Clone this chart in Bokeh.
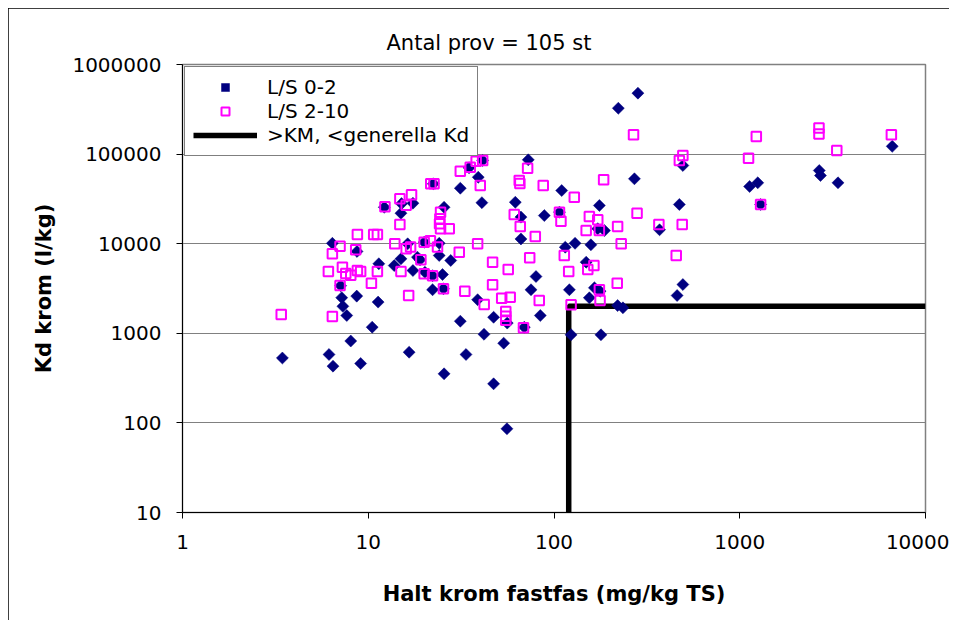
import numpy as np
from bokeh.plotting import figure
from bokeh.models import Range1d, FixedTicker, PrintfTickFormatter, Legend, LegendItem
from bokeh.embed import file_html
from bokeh.resources import INLINE

# L/S 0-2 (navy diamonds): solid-phase Cr (mg/kg TS), Kd (l/kg)
ls02_x = [3.45, 6.15, 6.46, 6.41, 7.1, 7.2, 7.3, 7.66, 8.05, 8.7, 8.67, 9.1, 10.5, 11.3, 11.4,
          12.2, 13.8, 15.0, 15.0, 15.1, 16.3, 16.6, 17.4, 17.4, 18.4, 19.0, 20.0, 20.2, 22.2,
          22.2, 22.4, 24.1, 24.1, 25.1, 25.4, 25.6, 25.6, 27.8, 31.3, 31.3, 33.6, 34.9, 38.8,
          39.1, 42.0, 40.9, 41.3, 47.3, 47.3, 53.6, 56.0, 55.8, 61.9, 66.4, 66.4, 69.2, 72.7,
          75.2, 80.0, 84.4, 88.7, 107, 110, 115, 121, 123.6, 129.8, 149, 155, 158, 165, 177,
          172, 175.5, 179, 187, 220, 222, 235, 271, 283, 370, 460, 473, 494, 494, 1130, 1250,
          1295, 2680, 2720, 3380, 6620]
ls02_y = [530, 580, 430, 10100, 3400, 2500, 2000, 1580, 820, 8200, 2600, 460, 1170, 2230, 5970,
          25500, 5700, 6780, 21900, 28000, 9970, 615, 5020, 28300, 7070, 6610, 10400, 4800, 3060,
          4400, 46600, 7390, 10100, 4530, 3140, 25500, 353, 6500, 1365, 41600, 580, 70300, 2370,
          55200, 975, 28700, 84900, 1510, 273, 776, 1300, 86, 29000, 19800, 11300, 1170, 86300,
          3060, 4300, 1580, 20600, 22500, 39200, 9140, 3060, 962, 10100, 6220, 2490, 9720, 3220, 2950,
          14700, 26700, 962, 14000, 2040, 325000, 1925, 53000, 479000, 14300, 2640, 27400, 3500, 74600,
          43500, 47800, 27400, 65600, 57700, 47800, 122000]

# L/S 2-10 (magenta open squares)
ls210_x = [3.4, 6.41, 6.41, 6.1, 7.05, 7.26, 7.05, 7.57, 8.05, 8.56, 8.74, 8.74, 9.1, 10.4, 10.7,
           11.2, 11.2, 12.3, 13.9, 14.8, 14.8, 15.0, 16.0, 16.0, 16.5, 16.9, 17.1, 19.2, 20.0,
           20.0, 22.2, 21.6, 21.7, 22.6, 23.6, 24.5, 24.3, 24.2, 24.5, 25.4, 27.3, 30.9, 31.3,
           33.1, 35.4, 38.1, 41.3, 38.8, 40.1, 42.1, 46.7, 46.7, 52.3, 55.0, 55.0, 55.0, 56.7,
           58.1, 61.1, 65.0, 65.5, 65.8, 68.5, 72.1, 74.0, 79.3, 83.3, 87.5, 107, 109, 113.6, 120,
           123.6, 128.6, 149, 152, 155, 164, 172, 175.5, 175.5, 177, 185, 219, 220, 230, 268, 280,
           367, 455, 473, 490, 494, 1115, 1228, 1295, 2670, 2670, 3330, 6550]
ls210_y = [1620, 1540, 7710, 4900, 9380, 5470, 3415, 4650, 4440, 8550, 12700, 5020, 4900, 3620, 12700,
           12700, 4900, 25800, 9970, 16400, 31700, 4900, 8770, 26900, 2640, 9170, 35100, 6610, 10400,
           4610, 4400, 10800, 46600, 46600, 9170, 22500, 19000, 16700, 14700, 3140, 14700, 8040, 64400,
           2950, 71400, 83300, 84900, 9970, 44600, 2095, 6220, 3480, 2465, 1750, 1550, 1400, 5150,
           2520, 21200, 50700, 47000, 15600, 1150, 69600, 6960, 12000, 2323, 44600, 22500, 17800, 7390, 4900,
           2080, 33000, 14000, 5150, 20100, 5710, 18500, 14000, 3060, 2320, 51700, 3620, 15600, 9970, 164000, 21900,
           16400, 7390, 84900, 16400, 96400, 90000, 157000, 27400, 195000, 168000, 110000, 164000]

# >KM, <generella Kd boundary
lim_x = [120, 120, 10000]
lim_y = [10, 2000, 2000]

x_ticks = [1, 10, 100, 1000, 10000]
y_ticks = [10, 100, 1000, 10000, 100000, 1000000]

FONT = "DejaVu Sans"

p = figure(width=941, height=612, x_axis_type="log", y_axis_type="log",
           x_range=Range1d(1, 10000), y_range=Range1d(10, 1000000),
           output_backend="svg", toolbar_location=None,
           min_border_left=174, min_border_right=24, min_border_top=56, min_border_bottom=108,
           title="Antal prov = 105 st", margin=(8, 0, 0, 8))
p.styles = {"outline": "1px solid black", "outline-offset": "-1px"}

p.title.text_font = FONT
p.title.text_font_size = "21px"
p.title.text_font_style = "normal"
p.title.text_color = "black"
p.title.align = "left"
p.title.offset = 204
p.title.standoff = 20

p.outline_line_color = "#808080"
p.outline_line_width = 1.5
p.background_fill_color = "white"
p.border_fill_color = "white"

p.xgrid.grid_line_color = None
p.ygrid.grid_line_color = "#808080"
p.ygrid.grid_line_width = 1
p.ygrid.ticker = FixedTicker(ticks=y_ticks)

for ax, ticks in ((p.xaxis[0], x_ticks), (p.yaxis[0], y_ticks)):
    ax.ticker = FixedTicker(ticks=ticks)
    ax.formatter = PrintfTickFormatter(format="%d")
    ax.major_tick_out = 6
    ax.major_tick_in = 0
    ax.minor_tick_out = 0
    ax.minor_tick_in = 0
    ax.axis_line_color = "black"
    ax.major_tick_line_color = "black"
    ax.major_label_text_font = FONT
    ax.major_label_text_font_size = "20px"
    ax.major_label_text_color = "black"
    ax.axis_label_text_font = FONT
    ax.axis_label_text_font_size = "21px"
    ax.axis_label_text_font_style = "bold"
    ax.axis_label_text_color = "black"

p.xaxis.axis_label = "Halt krom fastfas (mg/kg TS)"
p.yaxis.axis_label = "Kd krom (l/kg)"
p.xaxis.major_label_standoff = 16
p.yaxis.major_label_standoff = 15
p.xaxis.axis_label_standoff = 30
p.yaxis.axis_label_standoff = 13

r_line = p.line(lim_x, lim_y, line_color="black", line_width=5.5)
r_d = p.scatter(ls02_x, ls02_y, marker="square", angle=np.pi / 4, size=8.5,
                fill_color="#000080", line_color="#000080", line_width=0.5)
r_s = p.scatter(ls210_x, ls210_y, marker="square", size=9.5,
                fill_color=None, line_color="#FF00FF", line_width=2)

legend = Legend(items=[LegendItem(label="L/S 0-2", renderers=[r_d]),
                       LegendItem(label="L/S 2-10", renderers=[r_s]),
                       LegendItem(label=">KM, <generella Kd", renderers=[r_line])],
                location="top_left")
legend.margin = 2
legend.padding = 8
legend.spacing = 0
legend.label_height = 20
legend.glyph_height = 20
legend.glyph_width = 64
legend.label_standoff = 10
legend.label_text_font = FONT
legend.label_text_font_size = "20px"
legend.label_text_color = "black"
legend.border_line_color = "black"
legend.border_line_width = 1
legend.background_fill_alpha = 1
p.add_layout(legend)

open("out.html", "w").write(file_html(p, INLINE))
